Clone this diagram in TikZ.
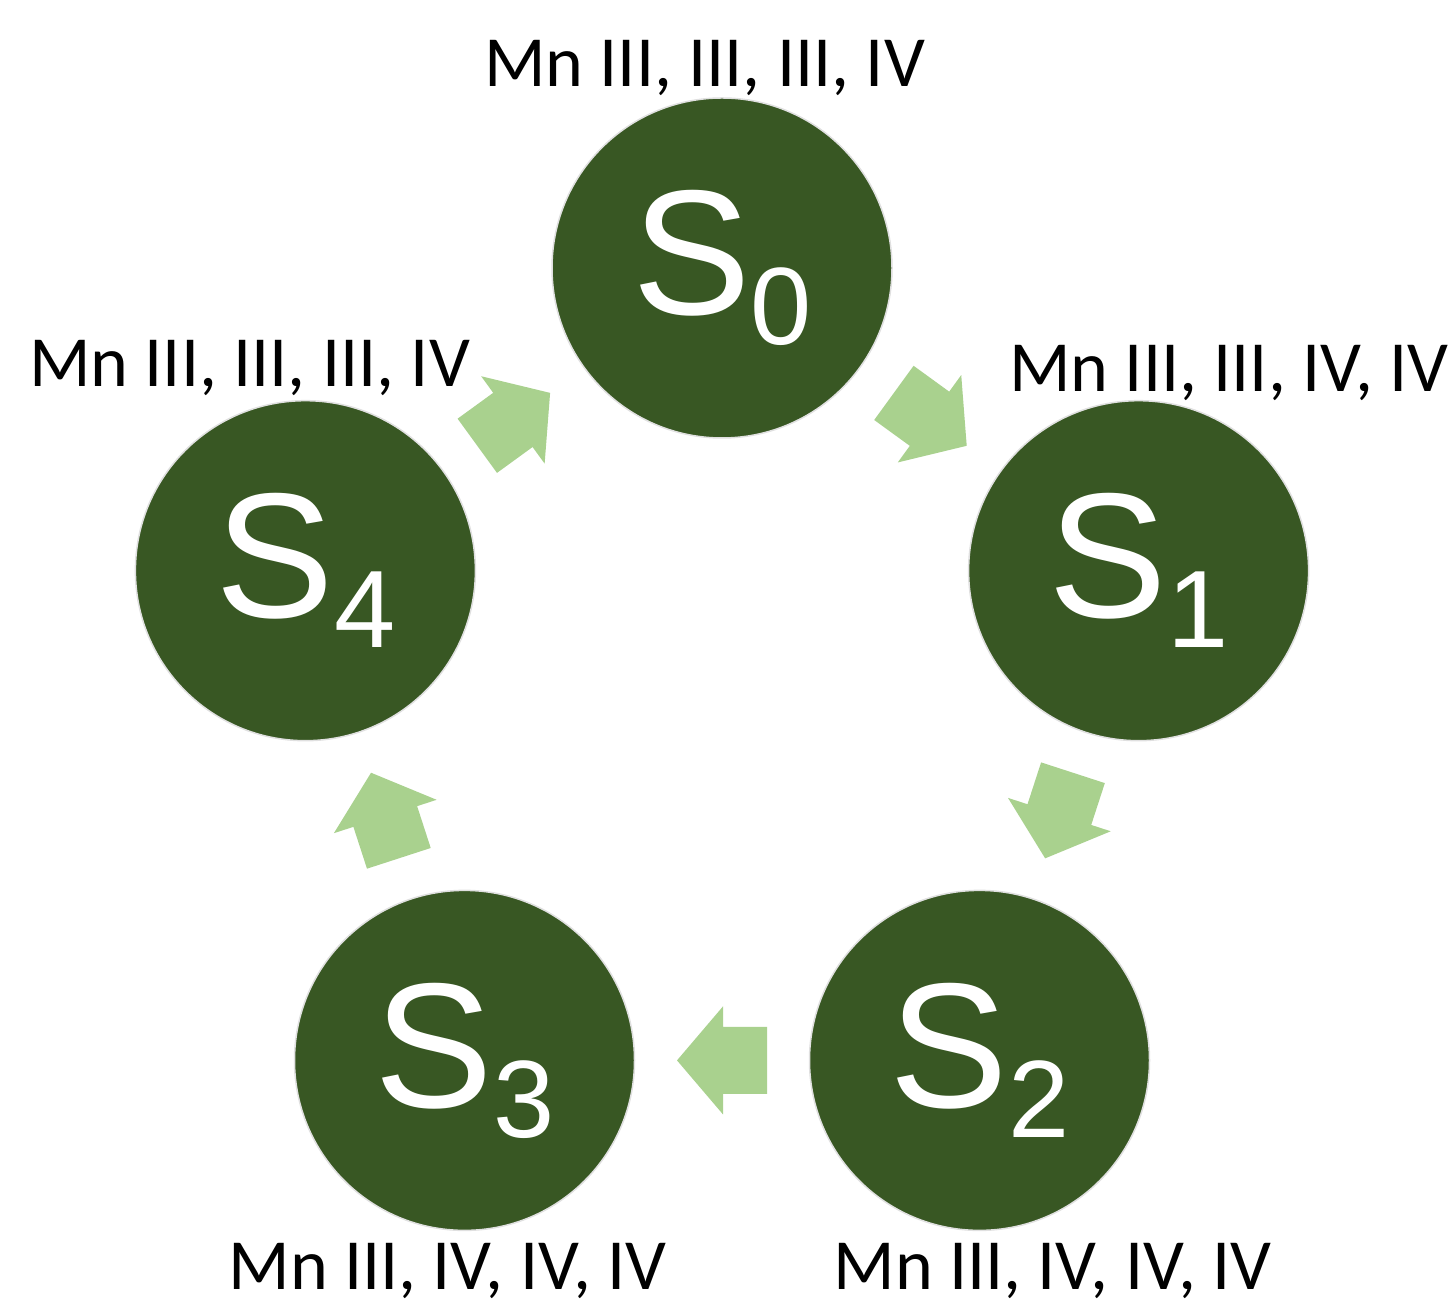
\documentclass[tikz,border=0pt]{standalone}
\usepackage{fontspec}
\setmainfont{Carlito}
\newfontfamily\arialf{Liberation Sans}
\usetikzlibrary{calc}
\definecolor{darkgreen}{HTML}{385723}
\definecolor{lightgreen}{HTML}{A9D18E}
\newcommand{\stxt}[1]{\arialf\fontsize{178}{178}\selectfont S\raisebox{-30pt}{\fontsize{110}{110}\selectfont #1}}
\begin{document}
\begin{tikzpicture}[x=1pt,y=1pt,
  statecircle/.style={circle, minimum size=340pt, inner sep=0pt, fill=darkgreen, draw=black!12, line width=1.5pt, text=white},
  lbl/.style={anchor=base, inner sep=0pt, font=\fontsize{72}{80}\selectfont},
  arrowfill/.style={fill=lightgreen}]
\useasboundingbox (0,0) rectangle (1456,1303);
\fill[white] (0,0) rectangle (1456,1303);
\node[statecircle] (s0) at (722,1035) {\stxt{0}};
\node[statecircle] (s1) at (1138.6,732.3) {\stxt{1}};
\node[statecircle] (s2) at (979.5,242.6) {\stxt{2}};
\node[statecircle] (s3) at (464.5,242.6) {\stxt{3}};
\node[statecircle] (s4) at (305.4,732.3) {\stxt{4}};
\foreach \a/\b/\ang in {s0/s1/-36, s1/s2/-108, s2/s3/180, s3/s4/108, s4/s0/36} {
  \fill[arrowfill, shift={($(\a)!0.5!(\b)$)}, rotate=\ang]
    (-45,-33.5) -- (-1,-33.5) -- (-1,-54) -- (45,0) -- (-1,54) -- (-1,33.5) -- (-45,33.5) -- cycle;
}
\node[lbl] (l0) at (704.5,1216) {Mn III, III, III, IV};
\node[lbl] (l1) at (1229,911) {Mn III, III, IV, IV};
\node[lbl] (l4) at (249.5,916) {Mn III, III, III, IV};
\node[lbl] (l3) at (447.5,13) {Mn III, IV, IV, IV};
\node[lbl] (l2) at (1052.5,13) {Mn III, IV, IV, IV};
\end{tikzpicture}
\end{document}
